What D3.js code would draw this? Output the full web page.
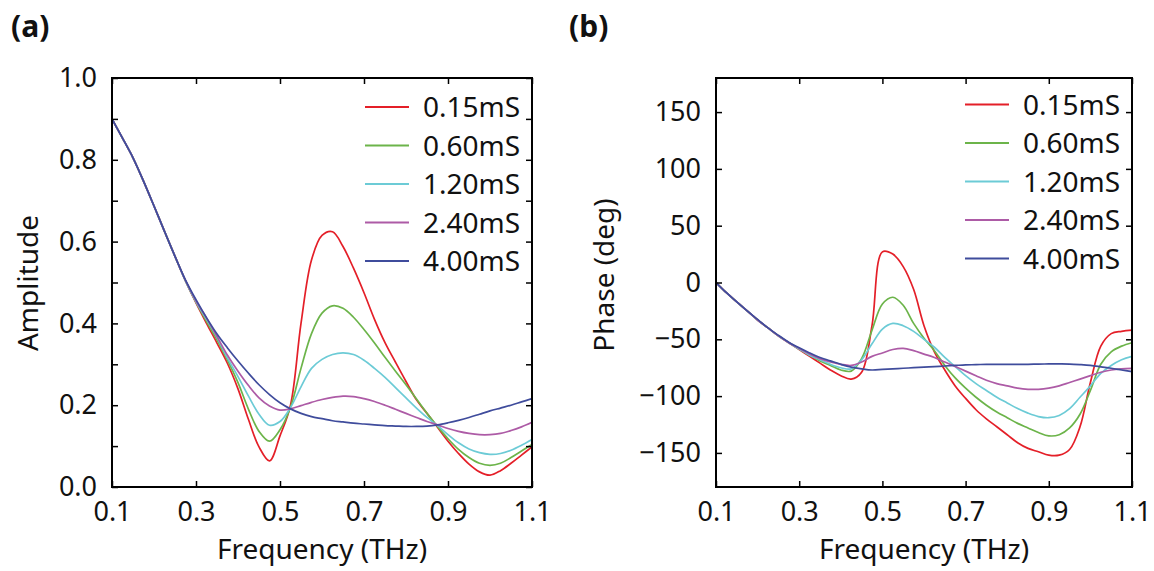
<!DOCTYPE html>
<html>
<head>
<meta charset="utf-8">
<script src="https://cdn.jsdelivr.net/npm/d3@7"></script>
<style>
  html, body { margin: 0; padding: 0; background: #ffffff; }
  svg { display: block; font-family: "Noto Sans", "Open Sans", sans-serif; }
</style>
</head>
<body>
<svg id="chart" width="1154" height="571"></svg>
<script>
// ---------------- DATA ----------------
const freq = [0.100,0.125,0.150,0.175,0.200,0.225,0.250,0.275,0.300,0.325,0.350,0.375,0.400,0.425,0.450,0.475,0.500,0.525,0.550,0.575,0.600,0.625,0.650,0.675,0.700,0.725,0.750,0.775,0.800,0.825,0.850,0.875,0.900,0.925,0.950,0.975,1.000,1.025,1.050,1.075,1.100];

const seriesNames = ["0.15mS","0.60mS","1.20mS","2.40mS","4.00mS"];
const seriesColors = ["#e41f28","#6cb44a","#6ccbd6","#ad5ba6","#3f4c9c"];

// Amplitude (panel a)
const amp015 = [.900,.853,.805,.748,.687,.625,.564,.504,.450,.400,.352,.302,.240,.165,.098,.064,.125,.200,.400,.555,.615,.624,.588,.535,.475,.410,.353,.305,.258,.213,.180,.146,.112,.082,.056,.037,.029,.040,.058,.078,.098];
const amp060 = [.900,.853,.805,.748,.687,.625,.564,.504,.452,.405,.360,.310,.255,.190,.136,.112,.140,.195,.290,.375,.425,.443,.437,.415,.385,.352,.317,.283,.250,.215,.180,.148,.118,.092,.072,.058,.053,.058,.072,.088,.104];
const amp120 = [.900,.853,.805,.748,.687,.625,.564,.504,.453,.410,.366,.315,.270,.222,.178,.151,.160,.194,.245,.290,.312,.324,.328,.324,.310,.290,.268,.243,.218,.193,.170,.150,.128,.108,.093,.084,.080,.082,.090,.102,.116];
const amp240 = [.900,.853,.805,.748,.687,.625,.564,.505,.455,.413,.368,.322,.283,.248,.218,.198,.188,.191,.199,.207,.214,.219,.222,.221,.216,.209,.200,.190,.180,.170,.160,.152,.143,.136,.131,.128,.128,.131,.138,.147,.158];
const amp400 = [.900,.853,.805,.748,.687,.625,.564,.506,.458,.414,.374,.340,.308,.278,.250,.226,.206,.191,.180,.172,.167,.162,.159,.156,.154,.152,.150,.149,.148,.148,.149,.152,.157,.163,.170,.178,.186,.193,.200,.208,.216];

// Phase in degrees (panel b)
const ph015 = [0,-9,-17,-25,-33,-40,-47,-53,-59,-65,-71,-77,-82,-85,-79,-38,27,25,14,-6,-38,-61,-77,-91,-102,-112,-120,-127,-134,-141,-146,-149,-152,-152,-147,-127,-88,-56,-45,-43,-42];
const ph060 = [0,-9,-17,-25,-33,-40,-47,-53,-58.5,-64,-69,-73,-77,-78,-67,-42,-19,-13,-20,-36,-49,-60,-73,-84,-93,-101,-108,-114,-119,-124,-128,-132,-135,-134,-128,-116,-95,-72,-61,-56,-53];
const ph120 = [0,-9,-17,-25,-33,-40,-47,-53,-58.5,-64,-68,-72,-75,-76,-68,-54,-41,-36,-38,-43,-50,-57,-66,-74,-82,-89,-95,-101,-106,-111,-115,-118,-119,-117,-111,-101,-91,-80,-73,-68,-65];
const ph240 = [0,-9,-17,-25,-33,-40,-47,-53,-58,-63,-67,-70,-72,-73,-70,-65,-62,-59,-58,-60,-63,-66,-70,-74,-78,-82,-86,-89,-91,-93,-94,-94,-93,-91,-88,-85,-82,-79,-77,-76,-75.5];
const ph400 = [0,-9,-17,-25,-32.5,-40,-46.5,-52.5,-57.5,-62,-66,-69,-72,-74.5,-76,-77,-76.5,-76,-75.5,-75,-74.5,-74,-73.5,-73,-72.5,-72.3,-72,-72,-72,-72,-72,-71.8,-71.7,-71.7,-71.8,-72.3,-73,-74.2,-75.5,-77,-78.5];

// Axes / ticks
const freqTicks = [0.1,0.3,0.5,0.7,0.9,1.1];
const ampTicks = [0.0,0.1,0.2,0.3,0.4,0.5,0.6,0.7,0.8,0.9,1.0];
const ampLabelTicks = [0.0,0.2,0.4,0.6,0.8,1.0];
const phaseTicks = [-150,-100,-50,0,50,100,150];
const ampDomain = [0, 1];
const phaseDomain = [-180, 180];
const freqDomain = [0.1, 1.1];

const panelLabels = ["(a)", "(b)"];
const xTitle = "Frequency (THz)";
const yTitles = ["Amplitude", "Phase (deg)"];

// ---------------- DRAW ----------------
const svg = d3.select("#chart");
const FONT = 28;

function fmtTick(v) {
  return (Math.round(v * 10) / 10).toFixed(1);
}

function drawPanel(cfg) {
  const x = d3.scaleLinear().domain(freqDomain).range([cfg.left, cfg.right]);
  const y = d3.scaleLinear().domain(cfg.yDomain).range([cfg.bottom, cfg.top]);
  const g = svg.append("g");

  const line = d3.line()
    .x(d => x(d[0]))
    .y(d => y(d[1]))
    .curve(d3.curveCatmullRom.alpha(0.5));

  const clipId = "clip" + cfg.id;
  svg.append("clipPath").attr("id", clipId)
    .append("rect")
    .attr("x", cfg.left).attr("y", cfg.top)
    .attr("width", cfg.right - cfg.left).attr("height", cfg.bottom - cfg.top);

  const curves = g.append("g").attr("clip-path", `url(#${clipId})`);
  cfg.series.forEach((vals, i) => {
    curves.append("path")
      .datum(freq.map((f, k) => [f, vals[k]]))
      .attr("d", line)
      .attr("fill", "none")
      .attr("stroke", seriesColors[i])
      .attr("stroke-width", 1.7)
      .attr("stroke-linejoin", "round");
  });

  const tickLen = 6;
  const bottom = g.append("g").attr("transform", `translate(0,${cfg.bottom})`)
    .call(d3.axisBottom(x).tickValues(freqTicks).tickSizeInner(-tickLen).tickSizeOuter(0)
      .tickPadding(15).tickFormat(d3.format(".1f")));
  const top = g.append("g").attr("transform", `translate(0,${cfg.top})`)
    .call(d3.axisTop(x).tickValues(freqTicks).tickSizeInner(-tickLen).tickSizeOuter(0).tickFormat(""));
  const left = g.append("g").attr("transform", `translate(${cfg.left},0)`)
    .call(d3.axisLeft(y).tickValues(cfg.yTicks).tickSizeInner(-tickLen).tickSizeOuter(0)
      .tickPadding(15).tickFormat(cfg.yFormat));
  const right = g.append("g").attr("transform", `translate(${cfg.right},0)`)
    .call(d3.axisRight(y).tickValues(cfg.yTicks).tickSizeInner(-tickLen).tickSizeOuter(0).tickFormat(""));

  [bottom, top, left, right].forEach(ax => {
    ax.select(".domain").remove();
    ax.selectAll(".tick line").attr("stroke", "#000").attr("stroke-width", 1.5);
    ax.selectAll(".tick text")
      .attr("font-family", "'Noto Sans', sans-serif")
      .attr("font-size", FONT - 1)
      .attr("fill", "#111");
  });

  g.append("rect")
    .attr("x", cfg.left).attr("y", cfg.top)
    .attr("width", cfg.right - cfg.left).attr("height", cfg.bottom - cfg.top)
    .attr("fill", "none").attr("stroke", "#000").attr("stroke-width", 2);

  const lg = g.append("g");
  seriesNames.forEach((name, i) => {
    const ly = cfg.legendTop + i * 38.5;
    lg.append("line")
      .attr("x1", cfg.right - 167).attr("x2", cfg.right - 123)
      .attr("y1", ly).attr("y2", ly)
      .attr("stroke", seriesColors[i]).attr("stroke-width", 2);
    lg.append("text")
      .attr("x", cfg.right - 109).attr("y", ly)
      .attr("dy", "0.36em")
      .attr("font-size", FONT)
      .attr("fill", "#111")
      .text(name);
  });

  g.append("text")
    .attr("x", (cfg.left + cfg.right) / 2).attr("y", 559)
    .attr("text-anchor", "middle")
    .attr("font-size", FONT).attr("fill", "#111")
    .text(xTitle);
  g.append("text")
    .attr("transform", `translate(${cfg.yTitleX},${cfg.yTitleY}) rotate(-90)`)
    .attr("text-anchor", "middle")
    .attr("font-size", FONT).attr("fill", "#111")
    .text(cfg.yTitle);

  g.append("text")
    .attr("x", cfg.labelX).attr("y", 37)
    .attr("font-size", 30).attr("font-weight", "bold").attr("fill", "#111")
    .text(cfg.label);
}

drawPanel({
  id: "a",
  left: 112, right: 532, top: 78, bottom: 487,
  yDomain: ampDomain,
  yTicks: ampTicks,
  yFormat: v => ampLabelTicks.some(t => Math.abs(t - v) < 1e-9) ? fmtTick(v) : "",
  series: [amp015, amp060, amp120, amp240, amp400],
  legendTop: 107,
  yTitle: yTitles[0], yTitleX: 38, yTitleY: 283,
  label: panelLabels[0], labelX: 11
});

drawPanel({
  id: "b",
  left: 716, right: 1132, top: 78, bottom: 487,
  yDomain: phaseDomain,
  yTicks: phaseTicks,
  yFormat: v => (v < 0 ? "\u2212" + Math.abs(v) : String(v)),
  series: [ph015, ph060, ph120, ph240, ph400],
  legendTop: 104.5,
  yTitle: yTitles[1], yTitleX: 614, yTitleY: 275,
  label: panelLabels[1], labelX: 569
});
</script>
</body>
</html>
